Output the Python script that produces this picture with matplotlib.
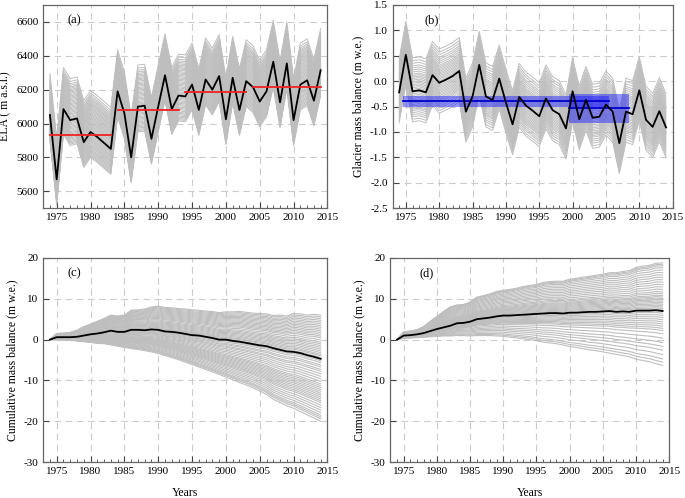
import numpy as np
import matplotlib
matplotlib.use('Agg')
import matplotlib.pyplot as plt
from matplotlib.ticker import MultipleLocator, FormatStrFormatter

plt.rcParams['font.family'] = ['Liberation Serif', 'DejaVu Serif']
plt.rcParams['font.size'] = 8
plt.rcParams['axes.unicode_minus'] = False

years = np.arange(1974, 2015)

# (a) ELA
ela = [6050, 5670, 6085, 6020, 6030, 5890, 5950, 5920, 5885, 5850,
       6190, 6060, 5800, 6100, 6105, 5910, 6100, 6285, 6085, 6165,
       6160, 6230, 6080, 6260, 6200, 6280, 6025, 6270, 6080, 6250,
       6215, 6130, 6190, 6365, 6125, 6355, 6020, 6230, 6255, 6135, 6315]
ela_offsets = [-150, -142, -135, -127, -120, -112, -105, -98, -90, -82, -75,
               -68, -60, -52, -45, -38, -30, -22, -15, -8, 0, 8, 15, 22, 30,
               37, 45, 52, 60, 67, 75, 82, 90, 97, 105, 112, 120, 128, 135,
               142, 150, 158, 165, 172, 180, 188, 196, 205, 215, 228, 245]
ela_mean_spans = [(1974, 1983), (1984, 1993), (1994, 2003), (2004, 2014)]
ela_means = [5935, 6080, 6185, 6215]

# (b) annual glacier mass balance
mb = [-0.22, 0.52, -0.20, -0.18, -0.22, 0.12, -0.03, 0.03, 0.10, 0.20,
      -0.60, -0.30, 0.32, -0.30, -0.37, 0.05, -0.42, -0.85, -0.31, -0.48,
      -0.58, -0.69, -0.34, -0.57, -0.65, -0.93, -0.20, -0.75, -0.37, -0.72,
      -0.70, -0.46, -0.60, -1.22, -0.60, -0.65, -0.18, -0.76, -0.90, -0.59, -0.91]
mb_offsets = [-0.60, -0.55, -0.50, -0.46, -0.42, -0.38, -0.35, -0.32, -0.29,
              -0.26, -0.23, -0.20, -0.17, -0.14, -0.11, -0.08, -0.05, -0.02,
              0.01, 0.04, 0.07, 0.10, 0.13, 0.16, 0.19, 0.22, 0.25, 0.28,
              0.31, 0.34, 0.38, 0.42, 0.46, 0.50, 0.55, 0.60, 0.66]
obs_spans = [(1974.5, 2005.5), (1999.5, 2008.5)]
obs_mean = [-0.40, -0.53]
obs_low = [-0.51, -0.82]
obs_high = [-0.30, -0.25]

# (c) cumulative mass balance
cum_c = [0, 0.6, 0.6, 0.6, 0.7, 1.0, 1.3, 1.5, 1.8, 2.2,
         1.9, 1.9, 2.4, 2.4, 2.3, 2.5, 2.4, 2.0, 1.9, 1.7,
         1.4, 1.1, 1.0, 0.7, 0.4, 0.0, 0.0, -0.3, -0.5, -0.8,
         -1.1, -1.4, -1.6, -2.1, -2.5, -2.9, -3.0, -3.3, -3.8, -4.2, -4.7]
cum_c_high = [0, 1.5, 1.6, 1.8, 2.3, 3.2, 3.8, 4.5, 5.2, 6.0,
              5.8, 6.0, 7.2, 7.3, 7.5, 8.0, 8.2, 7.9, 7.8, 7.6,
              7.5, 7.3, 7.2, 7.0, 6.9, 6.6, 6.8, 6.8, 6.9, 6.7,
              6.5, 6.4, 6.3, 5.9, 6.0, 5.8, 6.4, 6.3, 6.0, 6.2, 6.0]
cum_c_low = [0, 0.0, -0.1, -0.2, -0.3, -0.5, -0.7, -0.9, -1.0, -1.3,
             -1.6, -1.9, -2.2, -2.4, -2.7, -3.0, -3.4, -3.9, -4.4, -4.9,
             -5.5, -6.1, -6.7, -7.3, -7.9, -8.5, -9.2, -9.8, -10.5, -11.1,
             -11.8, -12.6, -13.4, -14.6, -15.4, -16.2, -16.8, -17.6, -18.4, -19.2, -20.0]
frac_c_up = [0.03, 0.07, 0.1, 0.14, 0.18, 0.22, 0.26, 0.3, 0.34, 0.38, 0.43,
             0.48, 0.52, 0.56, 0.6, 0.64, 0.68, 0.72, 0.76, 0.8, 0.84, 0.88,
             0.92, 0.96, 1.0]
frac_c_down = [0.03, 0.06, 0.1, 0.13, 0.17, 0.2, 0.24, 0.28, 0.32, 0.36, 0.4,
               0.43, 0.46, 0.49, 0.52, 0.55, 0.58, 0.61, 0.64, 0.67, 0.7,
               0.74, 0.78, 0.82, 0.86, 0.9, 0.93, 0.96, 1.0]

# (d) cumulative mass balance
cum_d = [0, 1.0, 1.1, 1.3, 1.6, 2.1, 2.6, 3.0, 3.4, 4.0,
         4.1, 4.4, 5.0, 5.2, 5.4, 5.7, 5.9, 5.9, 6.0, 6.1,
         6.2, 6.3, 6.4, 6.5, 6.5, 6.4, 6.6, 6.6, 6.7, 6.8,
         6.8, 6.9, 7.0, 6.8, 6.9, 6.8, 7.1, 7.1, 7.1, 7.2, 7.0]
cum_d_high = [0, 1.9, 2.1, 2.4, 3.2, 4.5, 5.7, 6.9, 8.0, 8.5,
              8.6, 9.2, 10.4, 10.8, 11.2, 11.8, 12.1, 12.3, 12.6, 13.0,
              13.3, 13.5, 14.0, 14.2, 14.3, 14.3, 14.8, 15.0, 15.3, 15.5,
              15.8, 16.0, 16.4, 16.4, 16.7, 16.9, 17.7, 18.0, 18.2, 18.7, 18.8]
cum_d_low = [0, 0.3, 0.4, 0.5, 0.6, 0.7, 0.8, 0.9, 0.9, 1.0,
             1.0, 0.9, 1.0, 1.0, 1.0, 0.9, 0.8, 0.6, 0.4, 0.2,
             0.0, -0.3, -0.6, -0.8, -1.0, -1.3, -1.7, -1.9, -2.2, -2.5,
             -2.7, -3.0, -3.3, -3.6, -3.9, -4.2, -4.8, -5.1, -5.4, -5.9, -6.3]
frac_d_up = [0.02, 0.05, 0.08, 0.11, 0.14, 0.17, 0.2, 0.23, 0.26, 0.29, 0.32,
             0.36, 0.4, 0.45, 0.5, 0.55, 0.6, 0.65, 0.7, 0.75, 0.8, 0.85,
             0.9, 0.94, 0.97, 1.0]
frac_d_down = [0.04, 0.08, 0.12, 0.16, 0.2, 0.24, 0.28, 0.32, 0.36, 0.42,
               0.5, 0.58, 0.65, 0.72, 0.8, 0.88, 0.94, 1.0]

GRAY = '#bebebe'


def style(ax, ylim, ystep, ylabel):
    ax.set_xlim(1973, 2015)
    ax.set_ylim(*ylim)
    ax.xaxis.set_major_locator(MultipleLocator(5))
    ax.xaxis.set_minor_locator(MultipleLocator(1))
    ax.yaxis.set_major_locator(MultipleLocator(ystep))
    ax.tick_params(which='both', direction='in', colors='#444444', labelcolor='black')
    ax.tick_params(which='major', length=4)
    ax.tick_params(which='minor', length=2)
    ax.grid(True, color='#cccccc', linestyle=(0, (6, 4)), linewidth=0.8)
    ax.set_axisbelow(True)
    for s in ax.spines.values():
        s.set_color('#666666')
        s.set_linewidth(0.9)
    ax.set_ylabel(ylabel, fontsize=8.5)


fig = plt.figure(figsize=(6.85, 4.98), dpi=100)
ax_a = fig.add_axes([0.063, 0.582, 0.415, 0.408])
ax_b = fig.add_axes([0.573, 0.582, 0.409, 0.408])
ax_c = fig.add_axes([0.063, 0.072, 0.415, 0.41])
ax_d = fig.add_axes([0.570, 0.072, 0.407, 0.41])

# (a)
ela_arr = np.array(ela)
for off in ela_offsets:
    ax_a.plot(years, ela_arr + off, color=GRAY, lw=0.7)
ax_a.plot(years, ela_arr, color='black', lw=1.3)
for (x0, x1), m in zip(ela_mean_spans, ela_means):
    ax_a.plot([x0, x1], [m, m], color='#ee2222', lw=1.3)
style(ax_a, (5500, 6700), 200, 'ELA ( m a.s.l.)')
ax_a.text(0.11, 0.955, '(a)', transform=ax_a.transAxes, ha='center', va='top', fontsize=9)

# (b)
mb_arr = np.array(mb)
for off in mb_offsets:
    ax_b.plot(years, mb_arr + off, color=GRAY, lw=0.7)
for (x0, x1), m, lo, hi in zip(obs_spans, obs_mean, obs_low, obs_high):
    ax_b.fill_between([x0, x1], [lo, lo], [hi, hi], color='#1515ff', alpha=0.45, lw=0, zorder=3)
    ax_b.plot([x0, x1], [m, m], color='#0000cc', lw=1.3, zorder=4)
ax_b.plot(years, mb_arr, color='black', lw=1.3, zorder=5)
style(ax_b, (-2.5, 1.5), 0.5, 'Glacier mass balance (m w.e.)')
ax_b.yaxis.set_major_formatter(FormatStrFormatter('%.1f'))
ax_b.text(0.14, 0.955, '(b)', transform=ax_b.transAxes, ha='center', va='top', fontsize=9)

# (c) and (d)
for ax, black, high, low, fu, fd, lab, lx in [
        (ax_c, cum_c, cum_c_high, cum_c_low, frac_c_up, frac_c_down, '(c)', 0.11),
        (ax_d, cum_d, cum_d_high, cum_d_low, frac_d_up, frac_d_down, '(d)', 0.13)]:
    black = np.array(black)
    high = np.array(high)
    low = np.array(low)
    for f in fu:
        ax.plot(years, black + f * (high - black), color=GRAY, lw=0.8)
    for f in fd:
        ax.plot(years, black + f * (low - black), color=GRAY, lw=0.8)
    ax.plot(years, black, color='black', lw=1.3)
    style(ax, (-30, 20), 10, 'Cumulative mass balance (m w.e.)')
    ax.set_xlabel('Years', fontsize=8.5, labelpad=8)
    ax.text(lx, 0.955, lab, transform=ax.transAxes, ha='center', va='top', fontsize=9)

fig.savefig('out.png', dpi=100)
